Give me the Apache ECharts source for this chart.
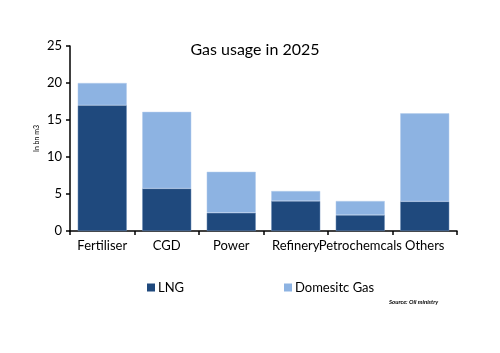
<!DOCTYPE html>
<html>
<head>
<meta charset="utf-8">
<script src="https://cdn.jsdelivr.net/npm/echarts@6/dist/echarts.min.js"></script>
<style>
  html, body { margin: 0; padding: 0; background: #fff; }
  #chart { width: 500px; height: 353px; }
</style>
</head>
<body>
<div id="chart"></div>
<script>
var categories = ['Fertiliser', 'CGD', 'Power', 'Refinery', 'Petrochemcals', 'Others']
var lng = [17, 5.75, 2.45, 4.05, 2.15, 4.0]
var domestic = [3, 10.35, 5.55, 1.35, 1.9, 11.9]
var yTicks = [0, 5, 10, 15, 20, 25]

var font = 'Lato'
var chart = echarts.init(document.getElementById('chart'))
chart.setOption({
  animation: false,
  color: ['#1f497d', '#8db3e2'],
  title: {
    text: 'Gas usage in 2025',
    left: 250,
    top: 37,
    textAlign: 'center',
    textStyle: { fontFamily: font, fontSize: 16, fontWeight: 'normal', color: '#000' }
  },
  graphic: [
    {
      type: 'text',
      left: 389,
      top: 299,
      style: {
        text: 'Source: Oil ministry',
        font: 'italic bold 6px ' + font,
        fill: '#000'
      }
    }
  ],
  legend: [
    {
      data: ['LNG'],
      left: 142,
      top: 276,
      itemWidth: 8,
      itemHeight: 8,
      itemGap: 4,
      icon: 'rect',
      itemStyle: { borderWidth: 0 },
      textStyle: { fontFamily: font, fontSize: 13, color: '#000', padding: [0, 0, 0, -2] }
    },
    {
      data: ['Domesitc Gas'],
      left: 279,
      top: 276,
      itemWidth: 8,
      itemHeight: 8,
      icon: 'rect',
      itemStyle: { borderWidth: 0 },
      textStyle: { fontFamily: font, fontSize: 13, color: '#000', padding: [0, 0, 0, -2] }
    }
  ],
  grid: { left: 70, right: 43, top: 46, bottom: 122 },
  xAxis: {
    type: 'category',
    data: categories,
    axisLine: { lineStyle: { color: '#000', width: 1.5 } },
    axisTick: { show: true, length: 4, lineStyle: { color: '#000', width: 1.5 } },
    axisLabel: { fontFamily: font, fontSize: 13, color: '#000', margin: 8, interval: 0 }
  },
  yAxis: {
    type: 'value',
    min: yTicks[0],
    max: yTicks[yTicks.length - 1],
    interval: 5,
    name: 'In bn m3',
    nameLocation: 'middle',
    nameGap: 30,
    nameMoveOverlap: false,
    nameTextStyle: { fontFamily: font, fontSize: 7, color: '#000' },
    axisLine: { show: true, lineStyle: { color: '#000', width: 1.5 } },
    axisTick: { show: true, length: 4, lineStyle: { color: '#000', width: 1.5 } },
    splitLine: { show: false },
    axisLabel: { fontFamily: font, fontSize: 13, color: '#000', margin: 8 }
  },
  series: [
    {
      name: 'LNG',
      type: 'bar',
      stack: 'gas',
      barCategoryGap: '24%',
      data: lng,
      itemStyle: { borderColor: '#6e8fb8', borderWidth: 0.5 }
    },
    {
      name: 'Domesitc Gas',
      type: 'bar',
      stack: 'gas',
      barCategoryGap: '24%',
      data: domestic,
      itemStyle: { borderColor: '#b4cdec', borderWidth: 0.5 }
    }
  ]
})
</script>
</body>
</html>
